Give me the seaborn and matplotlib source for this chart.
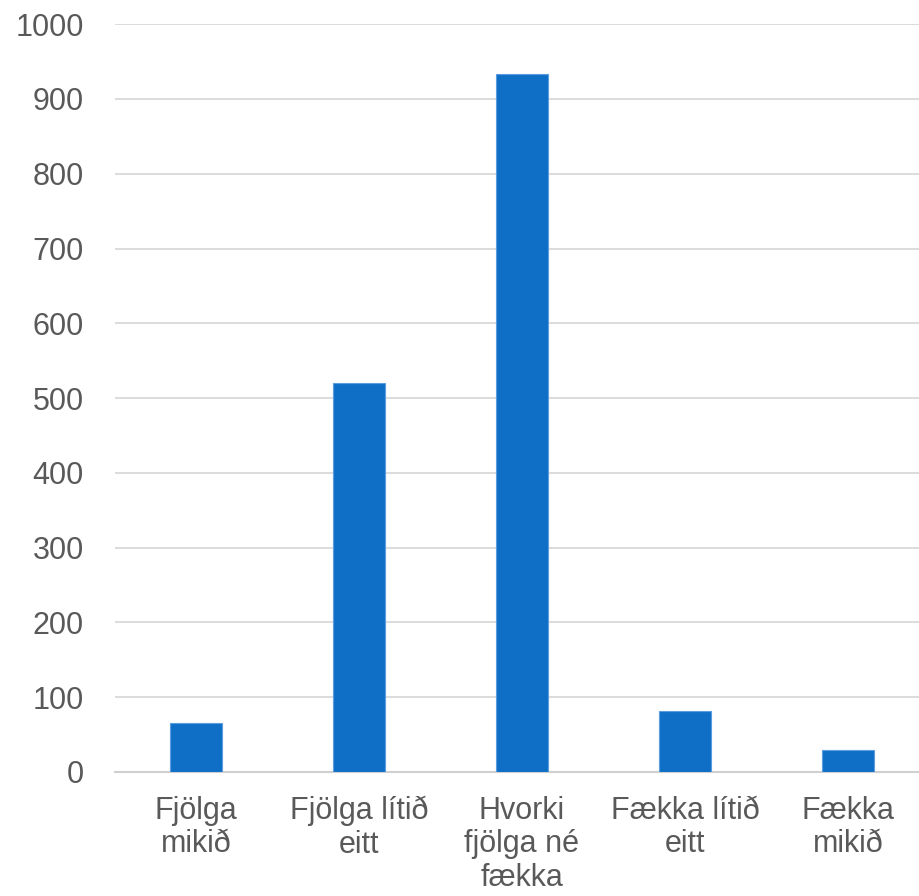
import matplotlib
matplotlib.use("Agg")
import matplotlib.pyplot as plt
import pandas as pd
import seaborn as sns

# gögn lesin af myndinni
flokkar = ["Fjölga\nmikið", "Fjölga lítið\neitt", "Hvorki\nfjölga né\nfækka",
           "Fækka lítið\neitt", "Fækka\nmikið"]
fjoldi = [66, 520, 933, 82, 29]
y_ticks = [0, 100, 200, 300, 400, 500, 600, 700, 800, 900, 1000]

df = pd.DataFrame({"flokkur": flokkar, "fjoldi": fjoldi})

sns.set_theme(style="white")
plt.rcParams["font.family"] = ["Liberation Sans", "DejaVu Sans"]

fig = plt.figure(figsize=(9.19, 8.96), dpi=100)
ax = fig.add_axes([0.1246, 0.1384, 0.8868, 0.8346])

sns.barplot(data=df, x="flokkur", y="fjoldi", color="#0F6FC6", saturation=1,
            width=0.32, edgecolor="#5a9ee0", linewidth=0.8, ax=ax, zorder=3)

ax.set_ylim(0, 1000)
ax.set_yticks(y_ticks)
ax.yaxis.grid(True, color="#d9d9d9", linewidth=1.3, zorder=0)
ax.set_axisbelow(True)
for s in ["top", "right", "left"]:
    ax.spines[s].set_visible(False)
ax.spines["bottom"].set_color("#d0d0d0")
ax.spines["bottom"].set_linewidth(1.5)
ax.tick_params(axis="both", length=0, labelsize=22, labelcolor="#595959")
ax.tick_params(axis="y", pad=22)
ax.tick_params(axis="x", pad=17)
for lbl in ax.get_xticklabels():
    lbl.set_linespacing(1.16)
ax.set_xlabel("")
ax.set_ylabel("")

fig.savefig("out.png", dpi=100)
